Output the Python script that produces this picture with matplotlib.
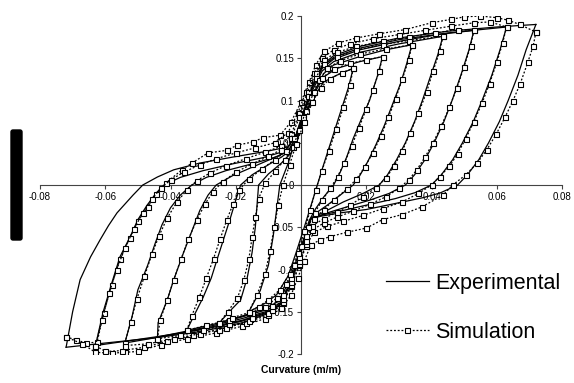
import matplotlib
matplotlib.use("Agg")
import matplotlib.pyplot as plt
from matplotlib.patches import FancyBboxPatch

# experimental loops (curvature, moment)
exp_up_1 = [(-0.072, -0.192), (-0.070, -0.150), (-0.0677, -0.112), (-0.0645, -0.085), (-0.0616, -0.065),
            (-0.059, -0.048), (-0.0564, -0.033), (-0.0515, -0.012), (-0.0485, 0.000), (-0.044, 0.0095),
            (-0.039, 0.018), (-0.031, 0.026), (-0.021, 0.033), (-0.0104, 0.040), (-0.004, 0.045),
            (-0.0015, 0.060), (0.001, 0.090), (0.0035, 0.118), (0.0065, 0.142), (0.010, 0.153),
            (0.018, 0.164), (0.030, 0.174), (0.045, 0.182), (0.060, 0.187), (0.072, 0.190)]
exp_down_1 = [(0.072, 0.190), (0.069, 0.160), (0.0665, 0.130), (0.0635, 0.100), (0.0608, 0.075),
              (0.0575, 0.050), (0.0545, 0.030), (0.051, 0.012), (0.048, 0.000), (0.0426, -0.0095),
              (0.0374, -0.015), (0.030, -0.021), (0.020, -0.029), (0.012, -0.033), (0.006, -0.037),
              (0.003, -0.040), (0.0015, -0.060), (-0.001, -0.090), (-0.0035, -0.118), (-0.0065, -0.142),
              (-0.010, -0.152), (-0.018, -0.163), (-0.030, -0.173), (-0.045, -0.181), (-0.060, -0.187),
              (-0.072, -0.192)]
exp_up_2 = [(-0.063, -0.190), (-0.0607, -0.151), (-0.058, -0.116), (-0.0555, -0.085), (-0.0524, -0.0615),
            (-0.050, -0.041), (-0.0472, -0.024), (-0.0444, -0.0095), (-0.042, 0.000), (-0.037, 0.009),
            (-0.030, 0.017), (-0.021, 0.025), (-0.012, 0.032), (-0.005, 0.040), (-0.0015, 0.058),
            (0.001, 0.088), (0.0035, 0.116), (0.0065, 0.140), (0.010, 0.151), (0.018, 0.162),
            (0.030, 0.172), (0.045, 0.180), (0.063, 0.187)]
exp_down_2 = [(0.063, 0.187), (0.061, 0.160), (0.0585, 0.130), (0.0555, 0.100), (0.0528, 0.075),
              (0.0495, 0.050), (0.0465, 0.030), (0.043, 0.012), (0.040, 0.000), (0.035, -0.009),
              (0.029, -0.016), (0.021, -0.023), (0.013, -0.030), (0.007, -0.035), (0.003, -0.040),
              (0.0015, -0.060), (-0.001, -0.090), (-0.0035, -0.118), (-0.0065, -0.142), (-0.010, -0.151),
              (-0.018, -0.161), (-0.030, -0.171), (-0.045, -0.180), (-0.063, -0.190)]
exp_up_3 = [(-0.054, -0.187), (-0.0518, -0.156), (-0.050, -0.124), (-0.047, -0.095), (-0.0447, -0.069),
            (-0.0426, -0.047), (-0.040, -0.027), (-0.037, -0.012), (-0.0335, 0.000), (-0.029, 0.009),
            (-0.023, 0.017), (-0.015, 0.025), (-0.007, 0.034), (-0.0035, 0.042), (-0.0015, 0.058),
            (0.001, 0.088), (0.0035, 0.115), (0.0065, 0.138), (0.010, 0.149), (0.018, 0.160),
            (0.030, 0.170), (0.042, 0.178), (0.053, 0.183)]
exp_down_3 = [(0.053, 0.183), (0.0515, 0.160), (0.049, 0.130), (0.0463, 0.100), (0.0438, 0.075),
              (0.0408, 0.050), (0.038, 0.030), (0.0348, 0.012), (0.032, 0.000), (0.027, -0.010),
              (0.021, -0.018), (0.014, -0.026), (0.008, -0.033), (0.003, -0.040), (0.0015, -0.060),
              (-0.001, -0.090), (-0.0035, -0.118), (-0.0065, -0.142), (-0.010, -0.150), (-0.018, -0.160),
              (-0.030, -0.170), (-0.042, -0.179), (-0.054, -0.187)]
exp_up_4 = [(-0.044, -0.180), (-0.0438, -0.163), (-0.041, -0.136), (-0.039, -0.112), (-0.036, -0.080),
            (-0.0335, -0.055), (-0.031, -0.030), (-0.0285, -0.012), (-0.026, 0.000), (-0.021, 0.011),
            (-0.015, 0.021), (-0.009, 0.031), (-0.004, 0.040), (-0.0015, 0.056), (0.001, 0.085),
            (0.0035, 0.112), (0.0065, 0.135), (0.010, 0.146), (0.018, 0.157), (0.030, 0.167),
            (0.0435, 0.176)]
exp_down_4 = [(0.0435, 0.176), (0.042, 0.155), (0.0398, 0.130), (0.0372, 0.100), (0.0348, 0.075),
              (0.032, 0.050), (0.0293, 0.030), (0.0265, 0.012), (0.024, 0.000), (0.019, -0.010),
              (0.013, -0.020), (0.008, -0.030), (0.003, -0.040), (0.0015, -0.060), (-0.001, -0.090),
              (-0.0035, -0.118), (-0.0065, -0.142), (-0.010, -0.149), (-0.018, -0.158), (-0.030, -0.169),
              (-0.044, -0.180)]
exp_up_5 = [(-0.035, -0.172), (-0.0335, -0.160), (-0.030, -0.133), (-0.0275, -0.110), (-0.0258, -0.089),
            (-0.0238, -0.065), (-0.0218, -0.041), (-0.020, -0.018), (-0.0185, 0.000), (-0.015, 0.012),
            (-0.010, 0.024), (-0.006, 0.033), (-0.003, 0.042), (-0.001, 0.056), (0.0015, 0.085),
            (0.004, 0.110), (0.007, 0.132), (0.010, 0.142), (0.018, 0.152), (0.026, 0.160),
            (0.034, 0.166)]
exp_down_5 = [(0.034, 0.166), (0.0325, 0.145), (0.0305, 0.120), (0.028, 0.095), (0.0255, 0.070),
              (0.023, 0.048), (0.0205, 0.028), (0.018, 0.011), (0.016, 0.000), (0.012, -0.012),
              (0.008, -0.024), (0.005, -0.032), (0.003, -0.040), (0.0015, -0.060), (-0.001, -0.090),
              (-0.0035, -0.118), (-0.0065, -0.140), (-0.010, -0.147), (-0.018, -0.156), (-0.026, -0.164),
              (-0.035, -0.172)]
exp_up_6 = [(-0.025, -0.163), (-0.022, -0.150), (-0.0185, -0.136), (-0.0165, -0.110), (-0.015, -0.080),
            (-0.014, -0.050), (-0.0135, -0.025), (-0.013, 0.000), (-0.010, 0.013), (-0.006, 0.026),
            (-0.003, 0.038), (-0.001, 0.055), (0.0015, 0.082), (0.004, 0.108), (0.007, 0.128),
            (0.011, 0.138), (0.018, 0.146), (0.025, 0.152)]
exp_down_6 = [(0.025, 0.152), (0.0235, 0.130), (0.021, 0.100), (0.0187, 0.080), (0.016, 0.055),
              (0.014, 0.033), (0.012, 0.015), (0.010, 0.000), (0.007, -0.014), (0.0045, -0.028),
              (0.0025, -0.042), (0.001, -0.062), (-0.0015, -0.090), (-0.004, -0.117), (-0.007, -0.138),
              (-0.011, -0.146), (-0.018, -0.155), (-0.025, -0.163)]
exp_up_7 = [(-0.016, -0.150), (-0.0125, -0.125), (-0.010, -0.095), (-0.0085, -0.060), (-0.0075, -0.030),
            (-0.0065, 0.000), (-0.004, 0.025), (-0.002, 0.050), (0.001, 0.080), (0.004, 0.105),
            (0.007, 0.122), (0.011, 0.130), (0.016, 0.138)]
exp_down_7 = [(0.016, 0.138), (0.0145, 0.115), (0.012, 0.085), (0.0095, 0.055), (0.007, 0.025),
              (0.005, 0.000), (0.003, -0.025), (0.001, -0.050), (-0.0015, -0.080), (-0.004, -0.108),
              (-0.0075, -0.130), (-0.011, -0.140), (-0.016, -0.150)]

# simulated loops
sim_up_1 = [(-0.072, -0.180), (-0.069, -0.183), (-0.066, -0.187), (-0.0625, -0.186), (-0.0605, -0.152),
            (-0.058, -0.118), (-0.0555, -0.088), (-0.0525, -0.063), (-0.050, -0.043), (-0.047, -0.026),
            (-0.0443, -0.011), (-0.0415, 0.002), (-0.0365, 0.018), (-0.0334, 0.026), (-0.0285, 0.038),
            (-0.0227, 0.041), (-0.0197, 0.047), (-0.0147, 0.051), (-0.0116, 0.056), (-0.0064, 0.059),
            (-0.003, 0.075), (0.000, 0.098), (0.0025, 0.122), (0.0045, 0.142), (0.007, 0.158),
            (0.0113, 0.168), (0.017, 0.174), (0.024, 0.179), (0.032, 0.184), (0.040, 0.192),
            (0.046, 0.196), (0.050, 0.199), (0.055, 0.200), (0.060, 0.198), (0.0635, 0.195),
            (0.067, 0.190), (0.072, 0.181)]
sim_down_1 = [(0.072, 0.181), (0.0712, 0.165), (0.0695, 0.145), (0.0672, 0.120), (0.065, 0.100),
              (0.0625, 0.080), (0.0598, 0.060), (0.057, 0.042), (0.054, 0.026), (0.0505, 0.012),
              (0.0465, 0.000), (0.0435, -0.012), (0.037, -0.026), (0.031, -0.035), (0.025, -0.041),
              (0.020, -0.051), (0.014, -0.056), (0.009, -0.061), (0.0058, -0.065), (0.003, -0.071),
              (0.001, -0.090), (-0.001, -0.110), (-0.003, -0.130), (-0.006, -0.146), (-0.011, -0.158),
              (-0.018, -0.167), (-0.026, -0.175), (-0.035, -0.182), (-0.043, -0.189), (-0.050, -0.197),
              (-0.054, -0.198), (-0.058, -0.199), (-0.063, -0.198), (-0.067, -0.188), (-0.072, -0.180)]
sim_up_2 = [(-0.063, -0.190), (-0.061, -0.160), (-0.0588, -0.128), (-0.0565, -0.100), (-0.054, -0.075),
            (-0.0512, -0.052), (-0.0485, -0.033), (-0.0458, -0.017), (-0.043, -0.004), (-0.040, 0.006),
            (-0.036, 0.015), (-0.031, 0.024), (-0.026, 0.031), (-0.020, 0.038), (-0.014, 0.044),
            (-0.008, 0.050), (-0.004, 0.062), (-0.001, 0.085), (0.0015, 0.110), (0.004, 0.132),
            (0.0065, 0.150), (0.010, 0.160), (0.015, 0.167), (0.022, 0.173), (0.030, 0.178),
            (0.038, 0.183), (0.046, 0.188), (0.053, 0.192), (0.058, 0.193), (0.063, 0.187)]
sim_down_2 = [(0.063, 0.187), (0.0618, 0.168), (0.060, 0.145), (0.0578, 0.120), (0.0555, 0.097),
              (0.053, 0.075), (0.0505, 0.055), (0.048, 0.037), (0.0455, 0.022), (0.0425, 0.010),
              (0.040, 0.000), (0.036, -0.010), (0.031, -0.020), (0.025, -0.028), (0.019, -0.036),
              (0.013, -0.043), (0.008, -0.049), (0.004, -0.056), (0.0015, -0.072), (-0.0005, -0.095),
              (-0.003, -0.120), (-0.0055, -0.140), (-0.010, -0.154), (-0.017, -0.163), (-0.025, -0.171),
              (-0.033, -0.178), (-0.041, -0.185), (-0.048, -0.192), (-0.055, -0.196), (-0.060, -0.197),
              (-0.063, -0.190)]
sim_up_3 = [(-0.054, -0.187), (-0.0522, -0.162), (-0.0503, -0.135), (-0.048, -0.108), (-0.0457, -0.082),
            (-0.0435, -0.060), (-0.041, -0.039), (-0.038, -0.020), (-0.035, -0.006), (-0.032, 0.005),
            (-0.028, 0.014), (-0.023, 0.023), (-0.017, 0.031), (-0.011, 0.039), (-0.006, 0.046),
            (-0.003, 0.060), (-0.0005, 0.085), (0.002, 0.110), (0.0045, 0.132), (0.007, 0.148),
            (0.011, 0.157), (0.017, 0.164), (0.025, 0.170), (0.033, 0.175), (0.041, 0.180),
            (0.048, 0.184), (0.053, 0.183)]
sim_down_3 = [(0.053, 0.183), (0.052, 0.165), (0.050, 0.140), (0.0478, 0.115), (0.0455, 0.092),
              (0.043, 0.070), (0.0405, 0.050), (0.038, 0.033), (0.0355, 0.018), (0.033, 0.006),
              (0.030, -0.004), (0.026, -0.014), (0.021, -0.023), (0.016, -0.031), (0.011, -0.038),
              (0.007, -0.045), (0.0035, -0.053), (0.0015, -0.070), (-0.0005, -0.093), (-0.003, -0.118),
              (-0.0055, -0.138), (-0.010, -0.152), (-0.016, -0.161), (-0.023, -0.169), (-0.031, -0.176),
              (-0.039, -0.182), (-0.047, -0.188), (-0.054, -0.190)]
sim_up_4 = [(-0.044, -0.182), (-0.0432, -0.160), (-0.041, -0.136), (-0.039, -0.112), (-0.0368, -0.088),
            (-0.0345, -0.064), (-0.032, -0.042), (-0.0295, -0.023), (-0.027, -0.008), (-0.024, 0.004),
            (-0.020, 0.015), (-0.015, 0.025), (-0.010, 0.034), (-0.006, 0.042), (-0.003, 0.056),
            (-0.0005, 0.080), (0.002, 0.105), (0.0045, 0.127), (0.007, 0.143), (0.011, 0.152),
            (0.017, 0.160), (0.025, 0.166), (0.033, 0.171), (0.0435, 0.176)]
sim_down_4 = [(0.0435, 0.176), (0.0425, 0.158), (0.0405, 0.135), (0.0385, 0.110), (0.036, 0.085),
              (0.0335, 0.062), (0.031, 0.040), (0.0285, 0.022), (0.026, 0.008), (0.023, -0.003),
              (0.019, -0.014), (0.015, -0.024), (0.011, -0.032), (0.007, -0.040), (0.0035, -0.048),
              (0.0015, -0.066), (-0.0005, -0.090), (-0.003, -0.115), (-0.0055, -0.135), (-0.009, -0.148),
              (-0.015, -0.157), (-0.022, -0.165), (-0.030, -0.172), (-0.037, -0.178), (-0.044, -0.182)]
sim_up_5 = [(-0.035, -0.172), (-0.0335, -0.155), (-0.0312, -0.133), (-0.029, -0.110), (-0.0268, -0.087),
            (-0.0248, -0.064), (-0.0228, -0.042), (-0.0208, -0.022), (-0.019, -0.006), (-0.016, 0.007),
            (-0.012, 0.019), (-0.008, 0.030), (-0.0045, 0.040), (-0.002, 0.056), (0.0005, 0.080),
            (0.003, 0.104), (0.0055, 0.124), (0.008, 0.138), (0.012, 0.147), (0.018, 0.155),
            (0.026, 0.161), (0.034, 0.166)]
sim_down_5 = [(0.034, 0.166), (0.033, 0.148), (0.031, 0.125), (0.029, 0.102), (0.0268, 0.080),
              (0.0245, 0.058), (0.022, 0.038), (0.0195, 0.021), (0.017, 0.007), (0.014, -0.005),
              (0.010, -0.018), (0.007, -0.029), (0.004, -0.040), (0.0015, -0.060), (-0.0005, -0.085),
              (-0.003, -0.110), (-0.0055, -0.130), (-0.009, -0.143), (-0.015, -0.152), (-0.022, -0.160),
              (-0.029, -0.166), (-0.035, -0.172)]
sim_up_6 = [(-0.025, -0.163), (-0.0225, -0.150), (-0.0195, -0.134), (-0.0175, -0.112), (-0.016, -0.088),
            (-0.015, -0.062), (-0.014, -0.038), (-0.013, -0.016), (-0.011, 0.002), (-0.008, 0.016),
            (-0.005, 0.030), (-0.0025, 0.045), (-0.0005, 0.065), (0.0015, 0.088), (0.004, 0.110),
            (0.0065, 0.127), (0.010, 0.137), (0.015, 0.144), (0.020, 0.148), (0.025, 0.152)]
sim_down_6 = [(0.025, 0.152), (0.024, 0.135), (0.022, 0.112), (0.020, 0.090), (0.0178, 0.068),
              (0.0155, 0.046), (0.0133, 0.026), (0.0112, 0.010), (0.009, -0.004), (0.0065, -0.018),
              (0.0042, -0.033), (0.002, -0.050), (0.000, -0.072), (-0.002, -0.095), (-0.0045, -0.117),
              (-0.0075, -0.134), (-0.011, -0.144), (-0.016, -0.151), (-0.021, -0.157), (-0.025, -0.163)]
sim_up_7 = [(-0.016, -0.150), (-0.0135, -0.130), (-0.011, -0.105), (-0.0095, -0.078), (-0.0082, -0.050),
            (-0.007, -0.024), (-0.0055, 0.000), (-0.0035, 0.024), (-0.0015, 0.048), (0.001, 0.074),
            (0.0035, 0.098), (0.006, 0.115), (0.009, 0.126), (0.0125, 0.133), (0.016, 0.138)]
sim_down_7 = [(0.016, 0.138), (0.015, 0.118), (0.013, 0.092), (0.0108, 0.066), (0.0085, 0.040),
              (0.0063, 0.016), (0.0045, -0.006), (0.0028, -0.030), (0.001, -0.055), (-0.001, -0.080),
              (-0.0035, -0.105), (-0.0065, -0.124), (-0.010, -0.136), (-0.013, -0.144), (-0.016, -0.150)]

exp_branches = [exp_up_1, exp_down_1, exp_up_2, exp_down_2, exp_up_3, exp_down_3, exp_up_4,
                exp_down_4, exp_up_5, exp_down_5, exp_up_6, exp_down_6, exp_up_7, exp_down_7]
sim_branches = [sim_up_1, sim_down_1, sim_up_2, sim_down_2, sim_up_3, sim_down_3, sim_up_4,
                sim_down_4, sim_up_5, sim_down_5, sim_up_6, sim_down_6, sim_up_7, sim_down_7]

x_ticks = [-0.08, -0.06, -0.04, -0.02, 0, 0.02, 0.04, 0.06, 0.08]
x_labels = ["-0.08", "-0.06", "-0.04", "-0.02", "", "0.02", "0.04", "0.06", "0.08"]
y_ticks = [-0.2, -0.15, -0.1, -0.05, 0, 0.05, 0.1, 0.15, 0.2]
y_labels = ["-0.2", "-0.15", "-0.1", "-0.05", "0", "0.05", "0.1", "0.15", "0.2"]

plt.rcParams['font.family'] = ['Liberation Sans', 'DejaVu Sans']

fig = plt.figure(figsize=(5.74, 3.83), dpi=100)
ax = fig.add_axes([0.0697, 0.0757, 0.9094, 0.8825])

for i, br in enumerate(exp_branches):
    xs = [p[0] for p in br]
    ys = [p[1] for p in br]
    ax.plot(xs, ys, color="black", lw=0.9, label="Experimental" if i == 0 else None, zorder=3)

for i, br in enumerate(sim_branches):
    xs = [p[0] for p in br]
    ys = [p[1] for p in br]
    ax.plot(xs, ys, color="black", lw=0.9, ls=(0, (1.5, 1.5)), marker="s", ms=3.6,
            mfc="white", mec="black", mew=0.8, label="Simulation" if i == 0 else None, zorder=4)

ax.set_xlim(-0.08, 0.08)
ax.set_ylim(-0.2, 0.2)
ax.spines["left"].set_position(("data", 0))
ax.spines["bottom"].set_position(("data", 0))
ax.spines["right"].set_visible(False)
ax.spines["top"].set_visible(False)
for s in ("left", "bottom"):
    ax.spines[s].set_linewidth(0.8)
    ax.spines[s].set_color("#444444")
    ax.spines[s].set_zorder(2)

ax.set_xticks(x_ticks)
ax.set_xticklabels(x_labels)
ax.set_yticks(y_ticks)
ax.set_yticklabels(y_labels)
ax.tick_params(axis="both", labelsize=7, length=3, width=0.8, color="#444444", pad=2)

fig.text(0.524, 0.022, "Curvature (m/m)", ha="center", va="bottom", fontsize=7.5, fontweight="bold")

# blacked out y label
fig.patches.append(FancyBboxPatch((11, 143), 11, 110, boxstyle="round,pad=0,rounding_size=2",
                                  transform=None, facecolor="black", edgecolor="black", figure=fig))

leg = ax.legend(loc="upper left", bbox_to_anchor=(0.657, 0.31), bbox_transform=fig.transFigure,
                frameon=False, fontsize=15.5, handlelength=2.0, handletextpad=0.3, labelspacing=1.3,
                numpoints=1, borderaxespad=0)

fig.savefig("out.png", dpi=100)
